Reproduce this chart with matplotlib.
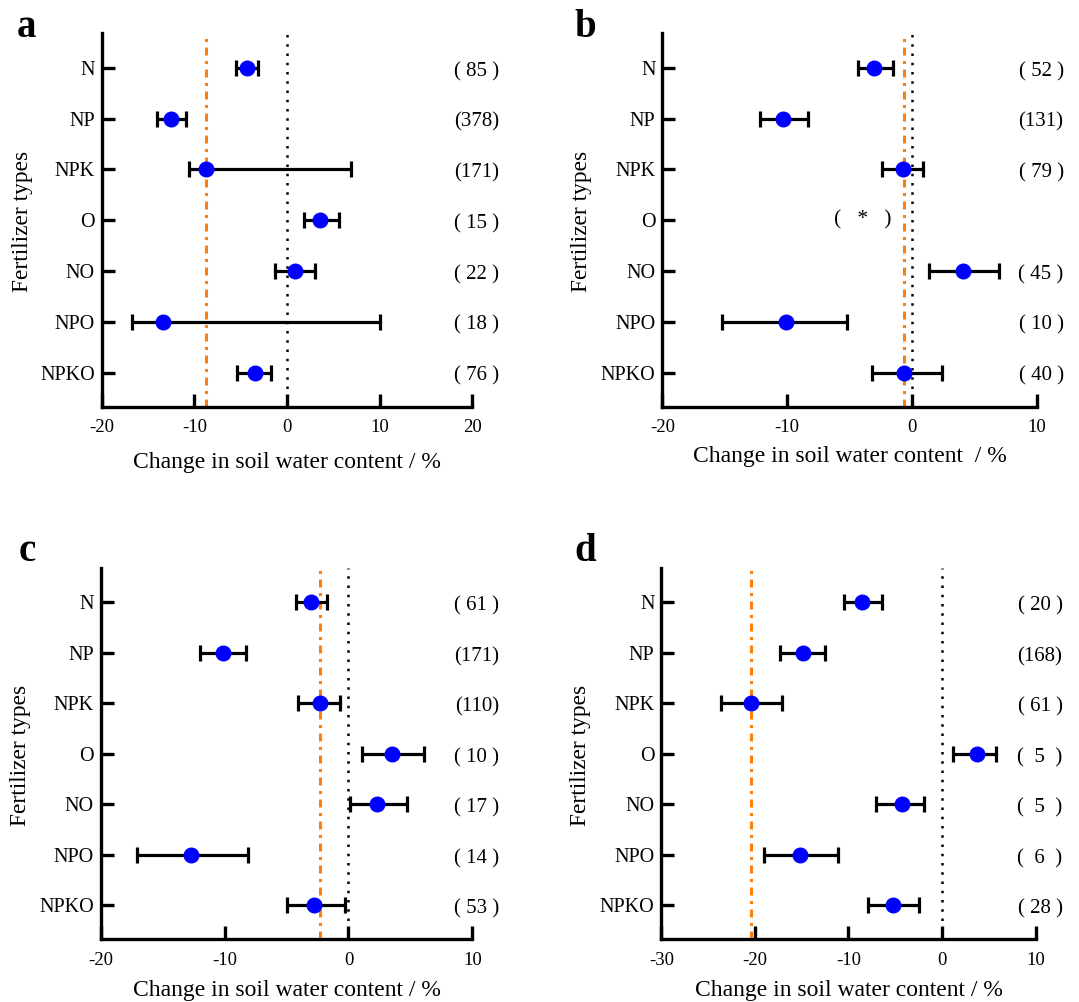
import numpy as np
import matplotlib
matplotlib.use("Agg")
import matplotlib.pyplot as plt

plt.rcParams["font.family"] = ["Liberation Serif", "DejaVu Serif"]
plt.rcParams["axes.unicode_minus"] = False

categories = ["N", "NP", "NPK", "O", "NO", "NPO", "NPKO"]

# panel a
a_mean = [-4.3, -12.5, -8.8, 3.6, 0.9, -13.4, -3.5]
a_low = [-5.5, -14.0, -10.6, 1.8, -1.3, -16.7, -5.4]
a_high = [-3.1, -10.9, 6.9, 5.6, 3.0, 10.0, -1.7]
a_n = ["( 85 )", "(378)", "(171)", "( 15 )", "( 22 )", "( 18 )", "( 76 )"]
a_avg = -8.8

# panel b (no data for O)
b_mean = [-3.0, -10.3, -0.7, np.nan, 4.1, -10.1, -0.6]
b_low = [-4.3, -12.2, -2.4, np.nan, 1.4, -15.2, -3.2]
b_high = [-1.5, -8.3, 0.9, np.nan, 7.0, -5.2, 2.4]
b_n = ["( 52 )", "(131)", "( 79 )", "", "( 45 )", "( 10 )", "( 40 )"]
b_avg = -0.6

# panel c
c_mean = [-3.0, -10.1, -2.3, 3.5, 2.3, -12.7, -2.8]
c_low = [-4.2, -12.0, -4.1, 1.1, 0.1, -17.1, -5.0]
c_high = [-1.7, -8.3, -0.7, 6.1, 4.7, -8.1, -0.3]
c_n = ["( 61 )", "(171)", "(110)", "( 10 )", "( 17 )", "( 14 )", "( 53 )"]
c_avg = -2.3

# panel d
d_mean = [-8.5, -14.9, -20.4, 3.7, -4.3, -15.2, -5.2]
d_low = [-10.5, -17.3, -23.6, 1.2, -7.1, -19.0, -7.9]
d_high = [-6.4, -12.5, -17.1, 5.8, -1.9, -11.1, -2.5]
d_n = ["( 20 )", "(168)", "( 61 )", "(  5  )", "(  5  )", "(  6  )", "( 28 )"]
d_avg = -20.4

panels = [
    ("a", a_mean, a_low, a_high, a_n, a_avg, (-20, 20), "Change in soil water content / %"),
    ("b", b_mean, b_low, b_high, b_n, b_avg, (-20, 10), "Change in soil water content  / %"),
    ("c", c_mean, c_low, c_high, c_n, c_avg, (-20, 10), "Change in soil water content / %"),
    ("d", d_mean, d_low, d_high, d_n, d_avg, (-30, 10), "Change in soil water content / %"),
]

# axes rectangles in figure fractions
rects = [
    [0.0943, 0.5943, 0.3435, 0.3728],
    [0.6139, 0.5943, 0.3468, 0.3728],
    [0.0933, 0.0626, 0.3445, 0.3709],
    [0.6130, 0.0626, 0.3467, 0.3709],
]
xlabel_y = [-0.149, -0.135, -0.137, -0.137]
letter_pos = [(27, 37), (585, 37), (27, 561), (585, 561)]

W, H = 1079, 1002
fig = plt.figure(figsize=(W / 100, H / 100), dpi=100)

for (letter, mean, low, high, nlab, avg, xlim, xlabel), rect, xly, lp in zip(panels, rects, xlabel_y, letter_pos):
    ax = fig.add_axes(rect)
    mean = np.array(mean, dtype=float)
    low = np.array(low, dtype=float)
    high = np.array(high, dtype=float)
    y = np.arange(len(categories))
    ok = ~np.isnan(mean)

    ax.axvline(0, color="black", lw=1.8, linestyle=(0, (1, 2.7)), zorder=1)
    ax.axvline(avg, color="#ff7f0e", lw=2.2, linestyle=(0, (2.6, 1.8, 1, 1.8)), zorder=1)

    ax.errorbar(mean[ok], y[ok],
                xerr=[mean[ok] - low[ok], high[ok] - mean[ok]],
                fmt="none", ecolor="black", elinewidth=2.3,
                capsize=5.6, capthick=2.3, zorder=2)
    ax.plot(mean[ok], y[ok], "o", color="#0000ff", markersize=10.5, zorder=3)

    for yi, s in zip(y, nlab):
        if s:
            ax.text(1.012, yi + 0.07, s, transform=ax.get_yaxis_transform(),
                    ha="center", va="center", fontsize=15)
    if letter == "b":
        ax.text(-3.9, 3, "(   *   )", ha="center", va="center", fontsize=15.5)

    ax.set_xlim(*xlim)
    ax.set_xticks(np.arange(xlim[0], xlim[1] + 1, 10))
    ax.set_ylim(6.67, -0.69)
    ax.set_yticks(y)
    ax.set_yticklabels(categories)

    for side in ["top", "right"]:
        ax.spines[side].set_visible(False)
    for side in ["left", "bottom"]:
        ax.spines[side].set_linewidth(2.4)

    ax.tick_params(axis="both", direction="in", length=9.5, width=2.4)
    ax.tick_params(axis="x", labelsize=13.5, pad=9)
    ax.tick_params(axis="y", labelsize=14.5, pad=5)

    ax.set_xlabel(xlabel, fontsize=17, va="center")
    ax.xaxis.set_label_coords(0.5, xly)
    ax.set_ylabel("Fertilizer types", fontsize=16.8, va="center")
    ax.yaxis.set_label_coords(-0.215, 0.495)

    fig.text(lp[0] / W, 1 - lp[1] / H, letter, fontsize=28, fontweight="bold",
             ha="center", va="baseline")

fig.savefig("out.png", dpi=100)
